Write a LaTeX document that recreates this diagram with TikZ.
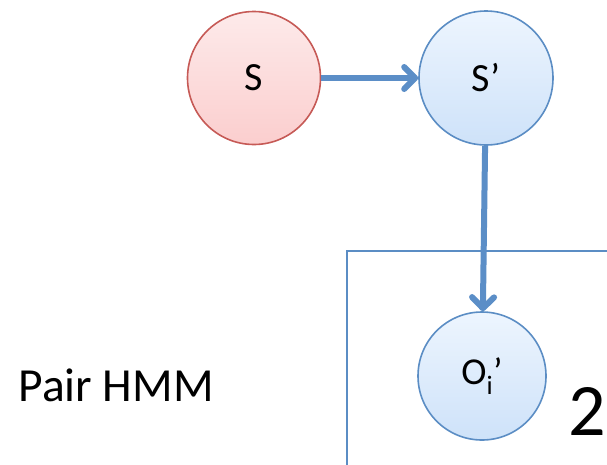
\documentclass[tikz,border=0pt]{standalone}
\usepackage{fontspec}
\setmainfont{Carlito}
\usetikzlibrary{arrows.meta}
\definecolor{edgeblue}{HTML}{5B8EC7}
\definecolor{rimblue}{HTML}{5B8DC4}
\definecolor{rimred}{HTML}{C65A56}
\definecolor{redtop}{HTML}{FDEAEA}
\definecolor{redbot}{HTML}{FBCECE}
\definecolor{bluetop}{HTML}{EDF5FE}
\definecolor{bluebot}{HTML}{CEE2F9}
\tikzset{
  var/.style={circle, minimum size=#1, inner sep=0pt, line width=1.6pt,
    font=\fontsize{40}{40}\selectfont},
  hidden/.style={var=133pt, draw=rimred, top color=redtop, bottom color=redbot},
  observed/.style={var=#1, draw=rimblue, top color=bluetop, bottom color=bluebot},
  link/.style={draw=edgeblue, line width=6pt,
    -{Straight Barb[length=11pt,width=22pt,line cap=round,line join=round]}},
  plate/.style={draw=rimblue, line width=1.4pt},
}
\begin{document}
\begin{tikzpicture}[x=1pt,y=-1pt]
\useasboundingbox (0,0) rectangle (607,464);
% plate around the emission variable
\draw[plate] (347,470) -- (347,251) -- (615,251);
\node[font=\fontsize{74}{74}\selectfont, anchor=base] (count) at (587.5,435) {2};
% variables
\node[hidden] (s) at (254,78) {S};
\node[observed=134pt] (sp) at (486,78) {S’};
\node[observed=128pt, font=\fontsize{38}{38}\selectfont] (o) at (482,376) {O\textsubscript{i}’};
% edges
\draw[link] (s) -- (sp);
\draw[link] (sp) -- (o);
% caption
\node[font=\fontsize{47.5}{47.5}\selectfont, anchor=base west] (cap) at (15,401) {Pair HMM};
\end{tikzpicture}
\end{document}
